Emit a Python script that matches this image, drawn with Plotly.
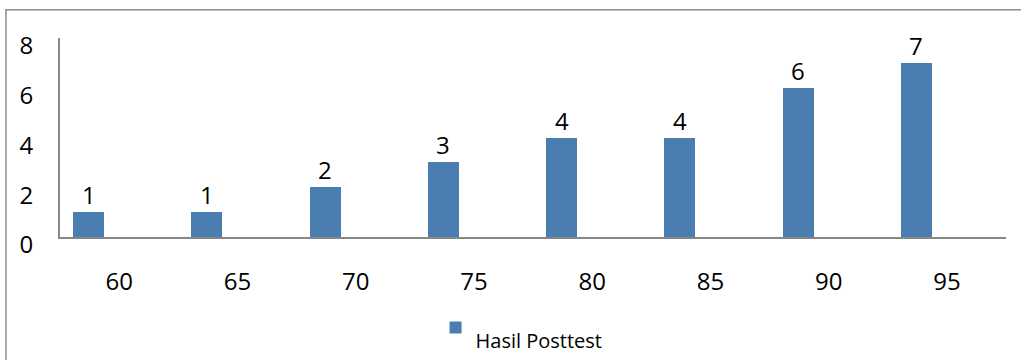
import plotly.graph_objects as go

# Post-test score categories and number of students per score
scores = ["60", "65", "70", "75", "80", "85", "90", "95"]
counts = [1, 1, 2, 3, 4, 4, 6, 7]
series_name = "Hasil Posttest"
y_ticks = [0, 2, 4, 6, 8]

BAR_COLOR = "#4A7EB1"
AXIS_COLOR = "#878787"
FONT = "Open Sans"
BAR_WIDTH = 0.262
BAR_OFFSET = -0.389

fig = go.Figure()
fig.add_trace(go.Bar(
    x=scores,
    y=counts,
    # an empty first line drops the legend text a little below its swatch
    name="<br>" + series_name,
    marker=dict(color=BAR_COLOR, line=dict(width=0)),
    width=BAR_WIDTH,
    offset=BAR_OFFSET,
    showlegend=True,
))

# Value labels above each bar
for i, v in enumerate(counts):
    fig.add_annotation(
        x=i + BAR_OFFSET + BAR_WIDTH / 2, y=v, xref="x", yref="y",
        text=str(v), showarrow=False, yanchor="bottom", yshift=-1,
        font=dict(family=FONT, size=24, color="#000000"),
    )

# Outer chart border (top and left edges visible)
fig.add_shape(
    type="rect", xref="paper", yref="paper",
    x0=-0.0571, x1=1.2, y0=-1.5, y1=1.1425,
    line=dict(color="#8c8c8c", width=1.5), fillcolor="rgba(0,0,0,0)",
    layer="below",
)

fig.update_layout(
    width=1021, height=360,
    margin=dict(l=60, r=15, t=37.5, b=122.7, pad=0, autoexpand=False),
    paper_bgcolor="white", plot_bgcolor="white",
    font=dict(family=FONT, size=24, color="#000000"),
    bargap=0,
    legend=dict(
        orientation="h", x=0.397, xanchor="left", y=-0.455, yanchor="middle",
        font=dict(family=FONT, size=20, color="#000000"),
        bgcolor="rgba(0,0,0,0)",
    ),
    xaxis=dict(
        type="category", range=[-0.5, 7.5],
        showline=True, linecolor=AXIS_COLOR, linewidth=2,
        showgrid=False, ticks="", zeroline=False,
        ticklabelstandoff=22,
        tickfont=dict(family=FONT, size=24),
    ),
    yaxis=dict(
        range=[0, 8], tickvals=y_ticks,
        showline=True, linecolor=AXIS_COLOR, linewidth=2,
        showgrid=False, ticks="", zeroline=False,
        ticklabelstandoff=20, ticklabelshift=8,
        tickfont=dict(family=FONT, size=24),
    ),
)

fig.write_html("out.html")
